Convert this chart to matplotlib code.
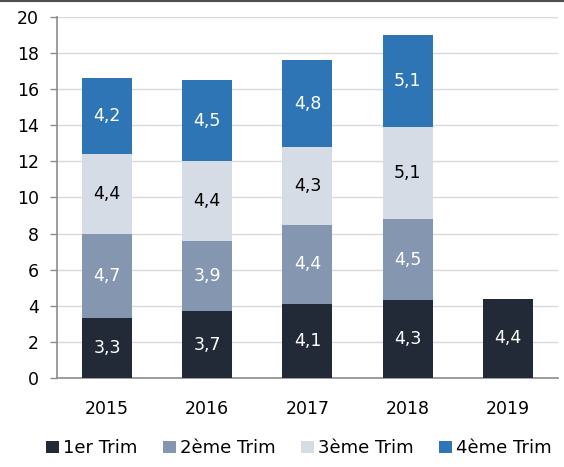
import numpy as np
import matplotlib.pyplot as plt
from matplotlib.lines import Line2D
from matplotlib.patches import Patch

# ---------------------------------------------------------------------------
# Data
# ---------------------------------------------------------------------------
years = ["2015", "2016", "2017", "2018", "2019"]
trim1 = [3.3, 3.7, 4.1, 4.3, 4.4]
trim2 = [4.7, 3.9, 4.4, 4.5, 0]
trim3 = [4.4, 4.4, 4.3, 5.1, 0]
trim4 = [4.2, 4.5, 4.8, 5.1, 0]
series_names = ["1er Trim", "2ème Trim", "3ème Trim", "4ème Trim"]
y_ticks = [0, 2, 4, 6, 8, 10, 12, 14, 16, 18, 20]

colors = ["#222a38", "#8496b0", "#d6dce5", "#2e75b6"]
text_colors = ["white", "white", "black", "white"]

plt.rcParams['font.family'] = ['DejaVu Sans']

fig = plt.figure(figsize=(5.64, 4.67), dpi=100)
ax = fig.add_axes([0.101, 0.1906, 0.888, 0.773])

x = np.arange(len(years))
bottom = np.zeros(len(years))
for vals, col, tcol in zip([trim1, trim2, trim3, trim4], colors, text_colors):
    vals = np.array(vals, dtype=float)
    ax.bar(x, vals, width=0.5, bottom=bottom, color=col, zorder=3)
    for xi, b, v in zip(x, bottom, vals):
        if v > 0:
            ax.text(xi, b + v / 2, f"{v:.1f}".replace(".", ","),
                    ha="center", va="center", color=tcol, fontsize=12.5, zorder=4)
    bottom += vals

# --- Axes styling ---
ax.set_xlim(-0.5, len(years) - 0.5)
ax.set_ylim(0, 20)
ax.set_yticks(y_ticks)
ax.set_xticks(x)
ax.set_xticklabels(years)
ax.tick_params(axis="x", length=0, pad=16, labelsize=12.5)
ax.tick_params(axis="y", length=5, width=1, color="#8c8c8c", pad=8, labelsize=12.5)
ax.yaxis.grid(True, color="#d9d9d9", linewidth=1, zorder=0)
ax.set_axisbelow(True)
for side in ["top", "right"]:
    ax.spines[side].set_visible(False)
for side in ["left", "bottom"]:
    ax.spines[side].set_color("#8c8c8c")
    ax.spines[side].set_linewidth(1.2)

# --- Legend at the bottom ---
handles = [Patch(facecolor=c, edgecolor="none") for c in colors]
fig.legend(handles, series_names, loc="center", bbox_to_anchor=(0.53, 0.04),
           ncol=4, frameon=False, fontsize=13, handlelength=0.7, handleheight=0.7,
           handletextpad=0.25, columnspacing=1.4)

# --- Top border line ---
fig.add_artist(Line2D([0, 1], [0.998, 0.998], transform=fig.transFigure,
                      color="#4d4d4d", linewidth=1.5))

fig.savefig("out.png", dpi=100)
